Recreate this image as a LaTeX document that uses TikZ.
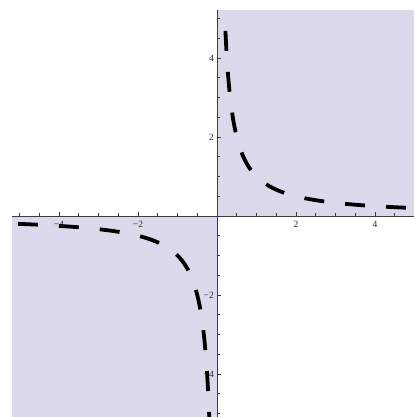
\documentclass[tikz,border=0pt]{standalone}
\usepackage{fontspec}
\setmainfont{Liberation Serif}
\definecolor{fillc}{RGB}{218,218,236}
\definecolor{axisc}{RGB}{60,60,60}
\definecolor{labc}{RGB}{40,40,40}
\tikzset{
  region/.style={fill=fillc,draw=none},
  axisline/.style={draw=axisc,line width=0.8pt},
  ticklab/.style={font=\fontsize{9.5}{10}\selectfont,text=labc,inner sep=1pt},
  curve/.style={line width=3.8pt,line cap=butt,dash pattern=on 20pt off 21pt},
}
\begin{document}
\begin{tikzpicture}[x=39.5pt,y=39.5pt]
\useasboundingbox (-217pt,-201pt) rectangle (197pt,216pt);
\fill[white] (-217pt,-201pt) rectangle (197pt,216pt);
% shaded quadrants
\fill[region] (0,0) rectangle (197pt,206pt);
\fill[region] (-205pt,0) rectangle (0,-201pt);
% axes
\draw[axisline] (-205pt,0) -- (197pt,0);
\draw[axisline] (0,206pt) -- (0,-201pt);
% minor ticks
\foreach \v in {-5,-4.5,...,5.0} {
  \draw[axisc,line width=0.6pt] (\v,0) -- ++(0,2.5pt);
}
\foreach \v in {-5,-4.5,...,5.0} {
  \draw[axisc,line width=0.6pt] (0,\v) -- ++(2.5pt,0);
}
\foreach \v in {-4,-2,2,4} {
  \draw[axisc,line width=0.6pt] (\v,0) -- ++(0,4pt);
  \draw[axisc,line width=0.6pt] (0,\v) -- ++(4pt,0);
}
% hyperbola
\draw[curve,dash phase=20pt] plot[domain=-1.652:1.607,samples=200,variable=\t] ({exp(\t)},{exp(-\t)});
\draw[curve,dash phase=35pt] plot[domain=-1.647:1.630,samples=200,variable=\s] ({-exp(-\s)},{-exp(\s)});
% tick labels
\node[ticklab,anchor=north] (xm4) at (-4,-4pt) {\textminus 4};
\node[ticklab,anchor=north] (xm2) at (-2,-4pt) {\textminus 2};
\node[ticklab,anchor=north] (x2) at (2,-4pt) {2};
\node[ticklab,anchor=north] (x4) at (4,-4pt) {4};
\node[ticklab,anchor=east] (y4) at (-2pt,4) {4};
\node[ticklab,anchor=east] (y2) at (-2pt,2) {2};
\node[ticklab,anchor=east] (ym2) at (-2pt,-2) {\textminus 2};
\node[ticklab,anchor=east] (ym4) at (-2pt,-4) {\textminus 4};
\end{tikzpicture}
\end{document}
